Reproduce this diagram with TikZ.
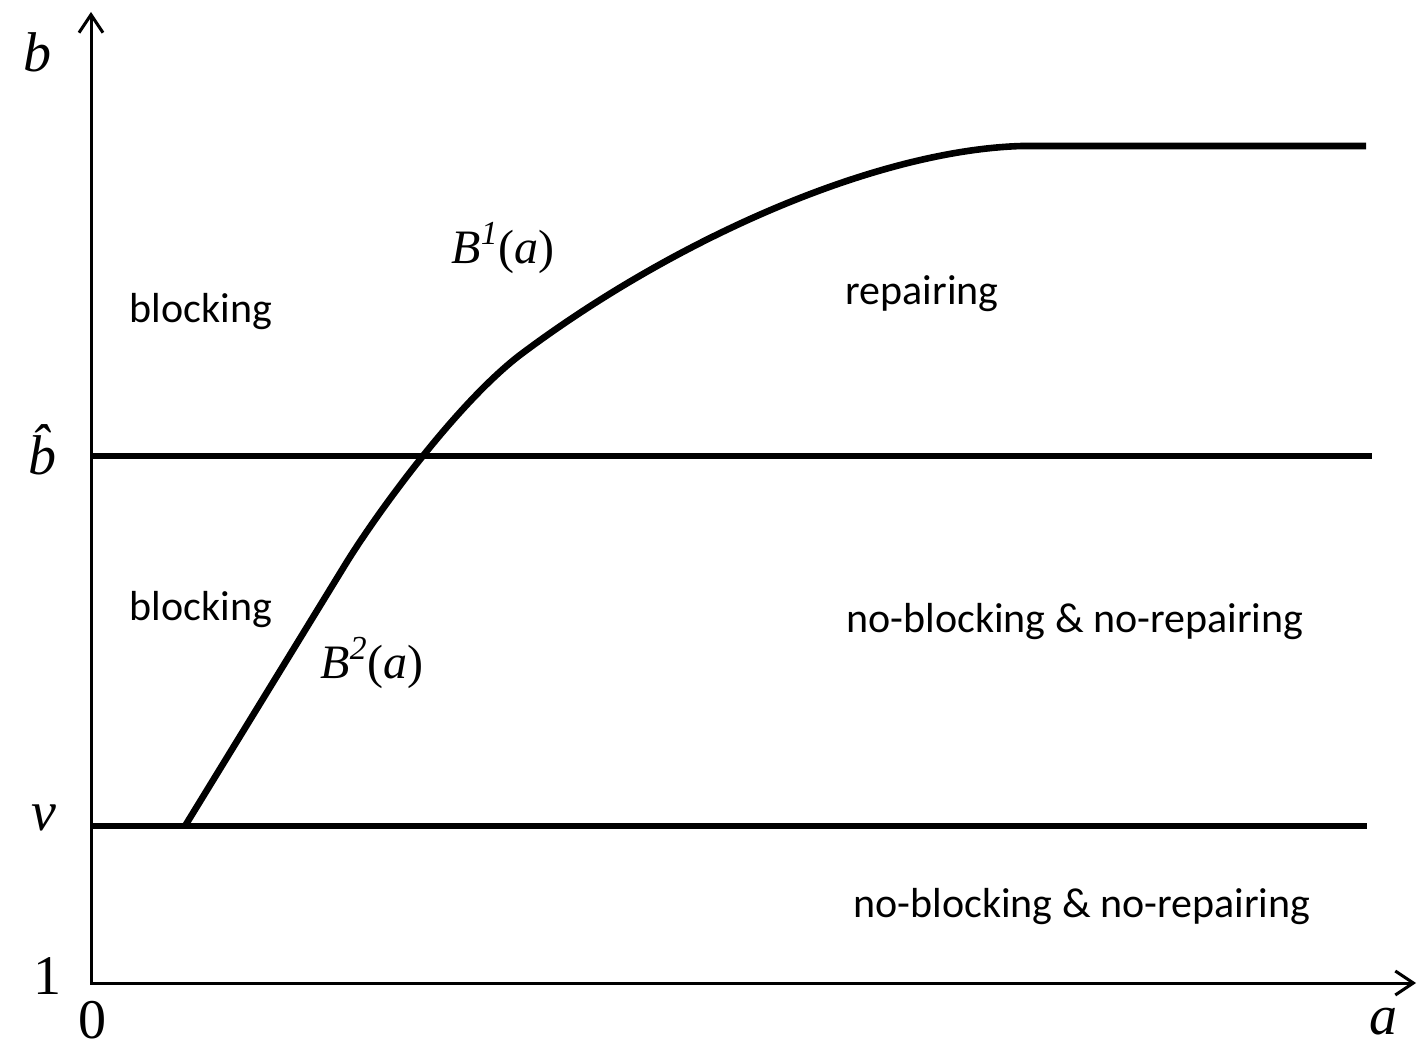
\documentclass[tikz,border=0pt]{standalone}
\usepackage{fontspec}
\setmainfont{Carlito}
\newfontfamily\tnr{Liberation Serif}
\usetikzlibrary{arrows.meta}
\begin{document}
\begin{tikzpicture}[x=0.5pt,y=-0.5pt,
  axis/.style={line width=1.5pt,{Straight Barb[length=9pt,width=12pt,line width=1.5pt]}-{Straight Barb[length=9pt,width=12pt,line width=1.5pt]}},
  bound/.style={line width=3.3pt},
  region/.style={font=\fontsize{21}{24}\selectfont,inner sep=0pt},
  sym/.style={font=\tnr\fontsize{28}{30}\selectfont\itshape,inner sep=0pt},
  curvelbl/.style={font=\tnr\fontsize{24}{27}\selectfont,inner sep=0pt}]
\useasboundingbox (0,0) rectangle (1419,1048);
\coordinate (o) at (91,983); \coordinate (ytip) at (91,12); \coordinate (xtip) at (1416,983);
\draw[axis] (ytip) -- (o) -- (xtip);
% thresholds
\draw[bound] (91,456) -- (1372,456);
\draw[bound] (91,826) -- (1367,826);
% best response curve
\coordinate (c0) at (185,826); \coordinate (c1) at (1022,146);
\draw[bound,line join=round] (c0) -- (345,565) .. controls (375,516) and (455,405) .. (520,355)
  .. controls (680,235) and (880,150) .. (c1) -- (1366,146);
% axis labels
\node[sym] (lb) at (38,52) {b};
\node[sym] (lbh) at (42,450) {\^{b}};
\node[sym] (lnu) at (44,818) {ν};
\node[sym,font=\tnr\fontsize{28}{30}\selectfont] (lone) at (47,976) {1};
\node[sym,font=\tnr\fontsize{28}{30}\selectfont] (lzero) at (92,1020) {0};
\node[sym] (la) at (1383,1022) {a};
% curve labels
\node[curvelbl] (bone) at (503,248) {\textit{B}\textsuperscript{\textit{1}}(\textit{a})};
\node[curvelbl] (btwo) at (372,663) {\textit{B}\textsuperscript{\textit{2}}(\textit{a})};
% regions
\node[region] (blk1) at (201,312) {blocking};
\node[region] (blk2) at (201,610) {blocking};
\node[region] (rep) at (922,294) {repairing};
\node[region] (nn1) at (1075,622) {no-blocking \& no-repairing};
\node[region] (nn2) at (1082,907) {no-blocking \& no-repairing};
\end{tikzpicture}
\end{document}
